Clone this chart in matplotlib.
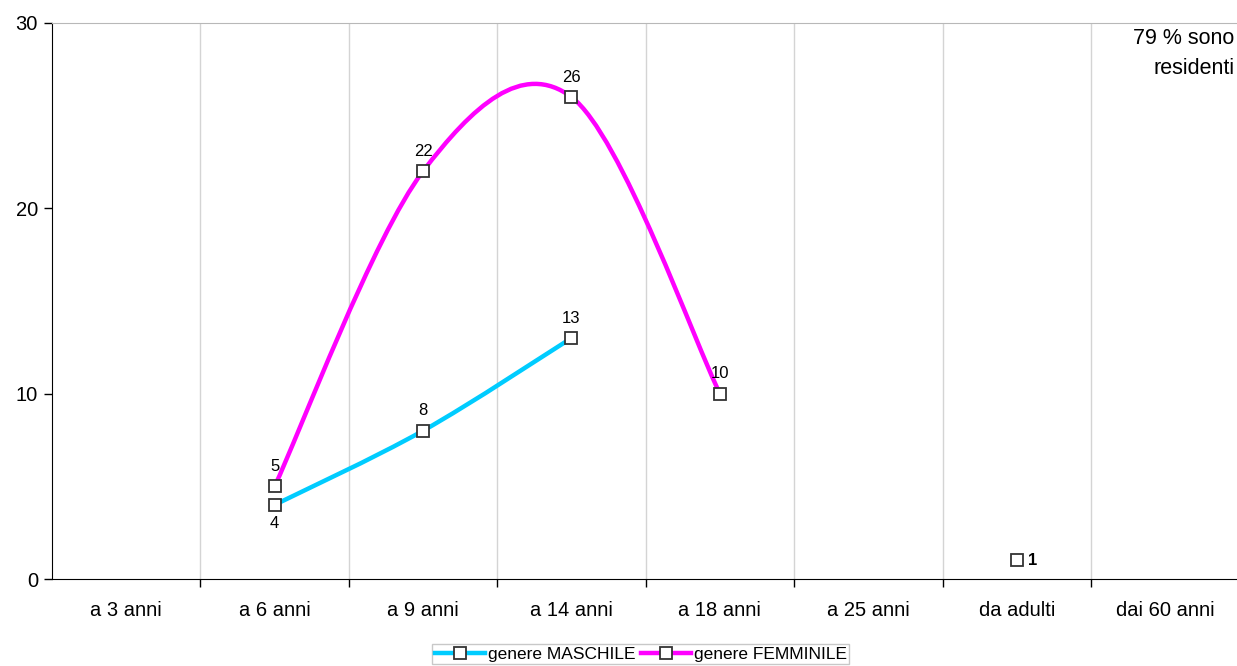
import matplotlib.pyplot as plt
import numpy as np
from matplotlib.path import Path
from matplotlib.patches import PathPatch
from matplotlib.lines import Line2D

plt.rcParams['font.family'] = ['Liberation Sans', 'DejaVu Sans']

# Dati
categorie = ["a 3 anni", "a 6 anni", "a 9 anni", "a 14 anni", "a 18 anni",
             "a 25 anni", "da adulti", "dai 60 anni"]
maschile = [None, 4, 8, 13, None, None, 1, None]
femminile = [None, 5, 22, 26, 10, None, None, None]
colore_m = "#00CCFF"
colore_f = "#FF00FF"


# Curva morbida stile Excel (Bezier tipo Catmull-Rom)
def curva(ax, xs, ys, colore):
    pts = np.column_stack([xs, ys]).astype(float)
    n = len(pts)
    verts = [pts[0]]
    codes = [Path.MOVETO]
    for i in range(n - 1):
        p0 = pts[i - 1] if i > 0 else pts[i]
        p1 = pts[i]
        p2 = pts[i + 1]
        p3 = pts[i + 2] if i + 2 < n else pts[i + 1]
        c1 = p1 + (p2 - p0) / 6.0
        c2 = p2 - (p3 - p1) / 6.0
        verts += [c1, c2, p2]
        codes += [Path.CURVE4] * 3
    ax.add_patch(PathPatch(Path(verts, codes), fill=False, edgecolor=colore,
                           lw=3.2, capstyle="round", zorder=3))


def segmenti(valori):
    seg, cur = [], []
    for i, v in enumerate(valori):
        if v is None:
            if cur:
                seg.append(cur)
            cur = []
        else:
            cur.append(i)
    if cur:
        seg.append(cur)
    return seg


fig = plt.figure(figsize=(12.37, 6.66), dpi=100)
ax = fig.add_axes([0.042, 0.1306, 0.96, 0.835])

for valori, colore in [(maschile, colore_m), (femminile, colore_f)]:
    for s in segmenti(valori):
        xs = [i + 0.5 for i in s]
        ys = [valori[i] for i in s]
        if len(s) > 1:
            curva(ax, xs, ys, colore)
        ax.plot(xs, ys, ls="none", marker="s", ms=8, mfc="white",
                mec="#333333", mew=1.3, zorder=4)

# Etichette dei valori
fs_val = 12
for i, v in enumerate(femminile):
    if v is not None:
        ax.annotate(str(v), (i + 0.5, v), xytext=(0, 9), textcoords="offset points",
                    ha="center", va="bottom", fontsize=fs_val)
for i, v in enumerate(maschile):
    if v is None:
        continue
    if i == 1:
        ax.annotate(str(v), (i + 0.5, v), xytext=(0, -8), textcoords="offset points",
                    ha="center", va="top", fontsize=fs_val)
    elif i == 6:
        ax.annotate(str(v), (i + 0.5, v), xytext=(8, 0), textcoords="offset points",
                    ha="left", va="center", fontsize=fs_val, fontweight="bold")
    else:
        ax.annotate(str(v), (i + 0.5, v), xytext=(0, 9), textcoords="offset points",
                    ha="center", va="bottom", fontsize=fs_val)

ax.set_xlim(0, 8)
ax.set_ylim(0, 30)
ax.set_yticks([0, 10, 20, 30])
ax.set_xticks(np.arange(1, 8), minor=False)
ax.set_xticklabels([])
ax.set_xticks(np.arange(8) + 0.5, minor=True)
ax.set_xticklabels(categorie, minor=True, fontsize=14.5)
ax.tick_params(axis="x", which="minor", length=0, pad=16)
ax.tick_params(axis="x", which="major", length=6, width=1, color="black")
ax.tick_params(axis="y", length=6, width=1, labelsize=14.5, pad=4)
for x in range(1, 8):
    ax.axvline(x, color="#d4d4d4", lw=1, zorder=0)

ax.spines["top"].set_color("#b8b8b8")
ax.spines["right"].set_visible(False)
ax.spines["left"].set_color("black")
ax.spines["bottom"].set_color("black")

ax.text(0.996, 0.99, "79 % sono\nresidenti", transform=ax.transAxes,
        ha="right", va="top", fontsize=15.5, linespacing=1.55)

maniglie = [
    Line2D([], [], color=colore_m, lw=3.2, marker="s", ms=8, mfc="white",
           mec="#333333", mew=1.3),
    Line2D([], [], color=colore_f, lw=3.2, marker="s", ms=8, mfc="white",
           mec="#333333", mew=1.3),
]
leg = fig.legend(maniglie, ["genere MASCHILE", "genere FEMMINILE"], loc="center",
                 bbox_to_anchor=(0.518, 0.018), ncol=2, fontsize=12.5, frameon=True,
                 fancybox=False, edgecolor="#bbbbbb", handlelength=2.9,
                 handletextpad=0.15, columnspacing=0.3, borderpad=0.15,
                 borderaxespad=0.0)

fig.savefig("out.png", dpi=100)
